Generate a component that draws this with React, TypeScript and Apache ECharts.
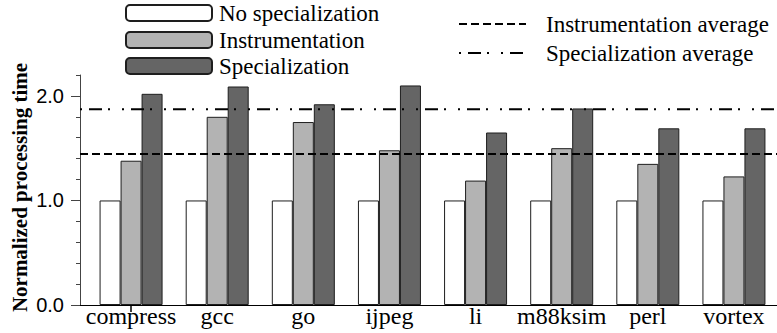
import React, { useEffect, useRef } from 'react';
import * as echarts from 'echarts';

const categories = ['compress', 'gcc', 'go', 'ijpeg', 'li', 'm88ksim', 'perl', 'vortex'];
const noSpecialization = [1, 1, 1, 1, 1, 1, 1, 1];
const instrumentation = [1.38, 1.80, 1.75, 1.48, 1.19, 1.50, 1.35, 1.23];
const specialization = [2.02, 2.09, 1.92, 2.10, 1.65, 1.88, 1.69, 1.69];
const instrumentationAverage = 1.445;
const specializationAverage = 1.873;
const yMax = 2.2;
const yMinorStep = 0.2;
const yLabelMax = 2;
const yLabelStep = 1;

const serif = 'Liberation Serif';
const sans = 'Liberation Sans';

export default function App() {
  const ref = useRef<HTMLDivElement>(null);
  useEffect(() => {
    if (!ref.current) return;
    const chart = echarts.init(ref.current, null, { renderer: 'svg' });
    const barBorder = { borderColor: '#1e1e1e', borderWidth: 1 };
    const barLegend = (name: string, top: number) => ({
      data: [name], left: 125, top, orient: 'horizontal', padding: 0,
      itemWidth: 86, itemHeight: 16, selectedMode: false,
      textStyle: { fontFamily: serif, fontSize: 23, color: '#000', lineHeight: 24, padding: [0, 0, 0, 2] },
    });
    const lineLegend = (name: string, top: number) => ({
      data: [name], left: 458, top, orient: 'horizontal', padding: 0,
      itemWidth: 67, itemHeight: 16, selectedMode: false,
      textStyle: { fontFamily: serif, fontSize: 23, color: '#000', lineHeight: 24, padding: [0, 0, 0, 15] },
      lineStyle: { width: 2 },
      itemStyle: { opacity: 0, borderWidth: 0 },
    });
    chart.setOption({
      animation: false,
      backgroundColor: '#fff',
      legend: [
        barLegend('No specialization', 1),
        barLegend('Instrumentation', 28),
        barLegend('Specialization', 54),
        lineLegend('Instrumentation average', 12),
        lineLegend('Specialization average', 41),
      ],
      grid: [
        { left: 88, top: 75, width: 691, height: 230 },
        { left: 80, top: 75, width: 697, height: 230 },
        { left: 80, top: 305 - (yLabelMax / yMax) * 230, width: 697, height: (yLabelMax / yMax) * 230 },
      ],
      xAxis: [
        {
          type: 'category', gridIndex: 0, data: categories,
          axisLine: { show: false },
          axisTick: { show: true, alignWithLabel: true, length: 7, interval: (i: number) => i === 0, lineStyle: { color: '#000', width: 1.5 } },
          axisLabel: { interval: 0, fontFamily: serif, fontSize: 24, color: '#000', margin: -1 },
          splitLine: { show: false },
        },
        {
          type: 'value', gridIndex: 1, min: 0, max: 1,
          axisLine: { show: true, lineStyle: { color: '#000', width: 1 } },
          axisTick: { show: false }, axisLabel: { show: false }, splitLine: { show: false },
        },
        { type: 'value', gridIndex: 2, min: 0, max: 1, show: false },
      ],
      yAxis: [
        { type: 'value', gridIndex: 0, min: 0, max: yMax, show: false },
        {
          type: 'value', gridIndex: 1, min: 0, max: yMax, interval: yMinorStep,
          axisLine: { show: true, lineStyle: { color: '#444', width: 1 } },
          axisTick: { show: true, inside: false, length: 4, lineStyle: { color: '#444' } },
          axisLabel: { show: false }, splitLine: { show: false },
          name: 'Normalized processing time', nameLocation: 'middle', nameRotate: 90, nameGap: 50,
          nameTextStyle: { fontFamily: serif, fontWeight: 'bold', fontSize: 21, color: '#000', padding: [0, 0, 0, 5] },
        },
        {
          type: 'value', gridIndex: 2, min: 0, max: yLabelMax, interval: yLabelStep,
          axisLine: { show: false },
          axisTick: { show: true, inside: false, length: 9, lineStyle: { color: '#444' } },
          axisLabel: { show: true, margin: 16, fontFamily: sans, fontSize: 20, color: '#000', formatter: (v: number) => v.toFixed(1) },
          splitLine: { show: false },
        },
      ],
      series: [
        { name: 'No specialization', type: 'bar', xAxisIndex: 0, yAxisIndex: 0, data: noSpecialization, barWidth: 21, barGap: '0%', itemStyle: { color: '#ffffff', ...barBorder } },
        { name: 'Instrumentation', type: 'bar', xAxisIndex: 0, yAxisIndex: 0, data: instrumentation, barWidth: 21, barGap: '0%', itemStyle: { color: '#b3b3b3', ...barBorder } },
        { name: 'Specialization', type: 'bar', xAxisIndex: 0, yAxisIndex: 0, data: specialization, barWidth: 21, barGap: '0%', itemStyle: { color: '#656565', ...barBorder } },
        {
          name: 'Instrumentation average', type: 'line', xAxisIndex: 1, yAxisIndex: 1, symbol: 'none', silent: true, z: 5,
          data: [[0, instrumentationAverage], [1, instrumentationAverage]],
          lineStyle: { color: '#000', width: 2, type: [8, 4] },
          itemStyle: { color: '#000' },
        },
        {
          name: 'Specialization average', type: 'line', xAxisIndex: 1, yAxisIndex: 1, symbol: 'none', silent: true, z: 5,
          data: [[0, specializationAverage], [1, specializationAverage]],
          lineStyle: { color: '#000', width: 2, type: [2, 7, 13, 6, 2, 12] },
          itemStyle: { color: '#000' },
        },
      ],
    });
    return () => chart.dispose();
  }, []);
  return <div ref={ref} style={{ position: 'fixed', left: 0, top: 0, width: 777, height: 333 }} />;
}
